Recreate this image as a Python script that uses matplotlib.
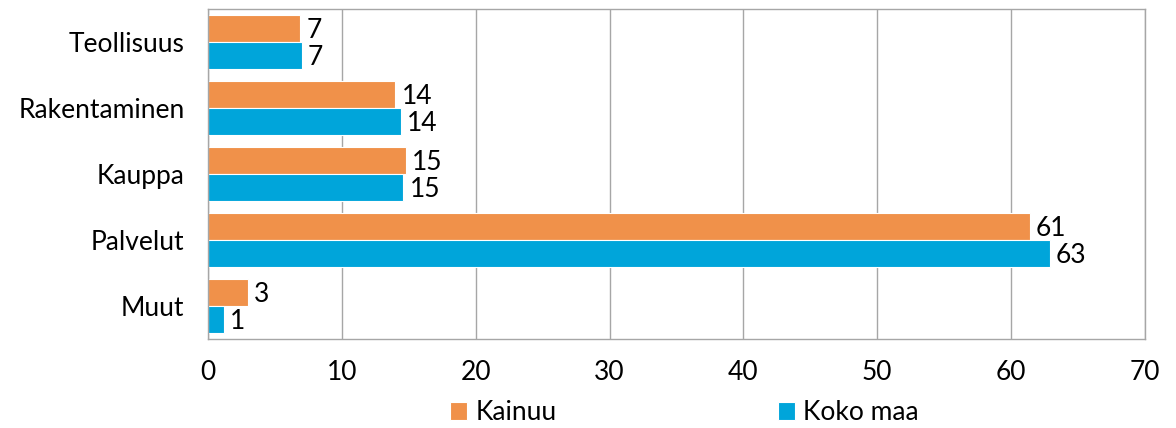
import numpy as np
import matplotlib
matplotlib.use("Agg")
import matplotlib.pyplot as plt

# data
categories = ["Teollisuus", "Rakentaminen", "Kauppa", "Palvelut", "Muut"]
kainuu = [6.9, 14.0, 14.8, 61.4, 3.0]
koko_maa = [7.0, 14.4, 14.6, 62.9, 1.2]
kainuu_labels = ["7", "14", "15", "61", "3"]
koko_maa_labels = ["7", "14", "15", "63", "1"]
x_ticks = [0, 10, 20, 30, 40, 50, 60, 70]

plt.rcParams['font.family'] = ['Lato', 'DejaVu Sans']

fig = plt.figure(figsize=(11.76, 4.28), dpi=100)
ax = fig.add_axes([208 / 1176, 1 - 339 / 428, (1145 - 208) / 1176, (339 - 9) / 428])

color_orange = '#F0914A'
color_blue = '#00A5DA'
bar_h = 0.415
fs = 19

y = np.arange(len(categories))
ax.barh(y - bar_h / 2, kainuu, height=bar_h, color=color_orange, edgecolor='white',
        linewidth=0.8, label='Kainuu', zorder=2)
ax.barh(y + bar_h / 2, koko_maa, height=bar_h, color=color_blue, edgecolor='white',
        linewidth=0.8, label='Koko maa', zorder=2)

# value labels
for i in range(len(categories)):
    ax.text(kainuu[i] + 0.45, y[i] - bar_h / 2 + 0.03, kainuu_labels[i], va='center', ha='left',
            fontsize=fs)
    ax.text(koko_maa[i] + 0.45, y[i] + bar_h / 2 + 0.03, koko_maa_labels[i], va='center', ha='left',
            fontsize=fs)

ax.set_xlim(0, 70)
ax.set_ylim(len(categories) - 0.5, -0.5)
ax.set_xticks(x_ticks)
ax.set_yticks(y)
ax.set_yticklabels(categories)
ax.tick_params(axis='x', length=0, pad=15, labelsize=fs)
ax.tick_params(axis='y', length=0, pad=17, labelsize=fs)
ax.grid(axis='x', color='#A6A6A6', linewidth=1, zorder=0)
for side in ['top', 'right', 'bottom', 'left']:
    ax.spines[side].set_color('#A6A6A6')
    ax.spines[side].set_linewidth(1)

fig.legend(loc='center', bbox_to_anchor=(0.582, 1 - 413 / 428), ncol=2, frameon=False,
           fontsize=fs, handlelength=0.65, handleheight=0.65, handletextpad=0.3,
           columnspacing=8.4)

fig.savefig('out.png', dpi=100)
